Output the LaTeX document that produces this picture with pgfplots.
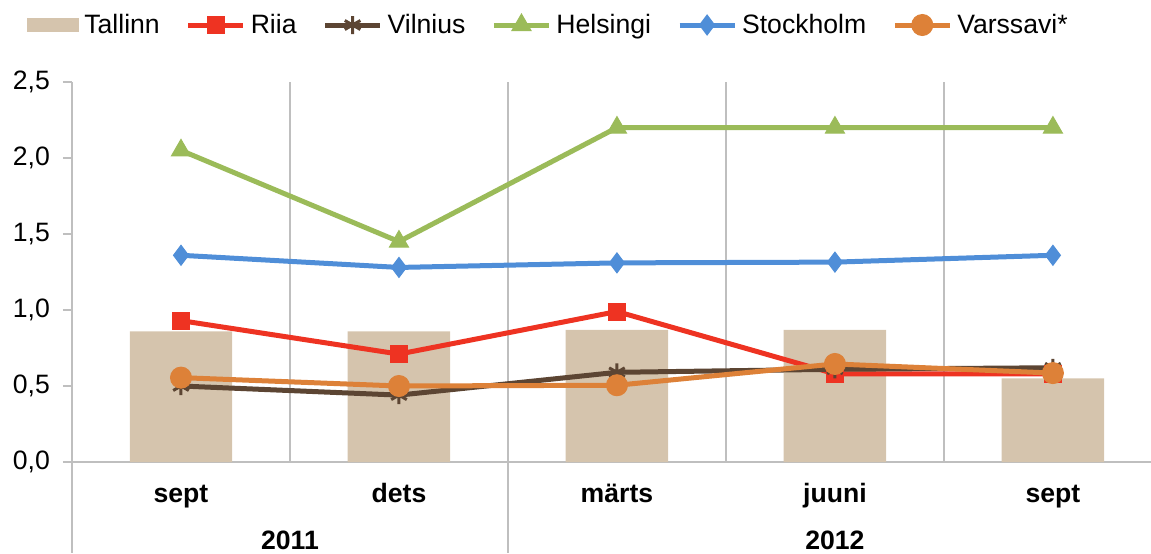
\documentclass[border=0pt]{standalone}
\usepackage{pgfplots}
\pgfplotsset{compat=1.18}
\usepackage{fontspec}
\setmainfont{Liberation Sans}
\definecolor{tallinn}{HTML}{D5C4AD}
\definecolor{riia}{HTML}{EE3322}
\definecolor{vilnius}{HTML}{5C4533}
\definecolor{helsingi}{HTML}{9BBB59}
\definecolor{stockholm}{HTML}{4F8ED8}
\definecolor{varssavi}{HTML}{DD8138}
\definecolor{gridc}{HTML}{BFBFBF}
\begin{document}
\begin{tikzpicture}[font=\fontsize{13.3}{15}\selectfont]
\begin{axis}[
  scale only axis,
  width=539.5pt, height=190pt,
  xmin=-0.5, xmax=4.45,
  ymin=0, ymax=2.5,
  clip=false,
  axis x line*=bottom, axis y line*=left,
  axis line style={gridc, line width=1pt, -},
  xtick={0,...,4},
  xticklabels={sept,dets,märts,juuni,sept},
  xticklabel style={font=\fontsize{13.3}{15}\selectfont\bfseries, anchor=base, yshift=-15.5pt},
  x tick style={draw=none},
  minor xtick={0.5,1.5,2.5,3.5},
  xminorgrids=true,
  minor x grid style={gridc, line width=1pt},
  minor x tick style={draw=none},
  ytick={0,0.5,...,2.5},
  y tick style={gridc, line width=1pt},
  tick align=outside,
  major tick length=4.5pt,
  yticklabel style={xshift=-3pt},
  /pgf/number format/.cd, use comma, fixed, fixed zerofill, precision=1, assume math mode=true,
  /pgfplots/.cd,
  legend columns=6,
  legend style={at={(-0.0473,1.15)}, anchor=west, draw=none, fill=none,
    font=\fontsize{13.3}{15}\selectfont,
    nodes={inner sep=1pt},
    /tikz/every odd column/.append style={column sep=1.5pt},
    /tikz/every even column/.append style={column sep=12pt},
    legend image code/.code={\draw[mark repeat=2,mark phase=2] plot coordinates {(0pt,0pt) (13.75pt,0pt) (27.5pt,0pt)};}},
]
\addplot[ybar, bar width=0.47, fill=tallinn, draw=none,
  legend image code/.code={\fill[tallinn] (0pt,-3.5pt) rectangle (26pt,3.5pt);}]
  coordinates {(0,0.86) (1,0.86) (2,0.87) (3,0.87) (4,0.55)};
\addlegendentry{Tallinn}
\addplot[riia, line width=2.5pt, mark=square*, mark size=4.25pt, mark options={line width=0.5pt}]
  coordinates {(0,0.93) (1,0.71) (2,0.99) (3,0.58) (4,0.58)};
\addlegendentry{Riia}
\addplot[vilnius, line width=2.5pt, mark=asterisk, mark size=4.5pt, mark options={line width=1.5pt}]
  coordinates {(0,0.50) (1,0.44) (2,0.59) (3,0.61) (4,0.62)};
\addlegendentry{Vilnius}
\addplot[helsingi, line width=2.5pt, mark=triangle*, mark size=5.5pt, mark options={line width=0.5pt}]
  coordinates {(0,2.05) (1,1.45) (2,2.20) (3,2.20) (4,2.20)};
\addlegendentry{Helsingi}
\addplot[stockholm, line width=2.5pt, mark=diamond*, mark size=5pt, mark options={line width=0.5pt}]
  coordinates {(0,1.36) (1,1.28) (2,1.31) (3,1.315) (4,1.36)};
\addlegendentry{Stockholm}
\addplot[varssavi, line width=2.5pt, mark=*, mark size=5.25pt, mark options={line width=0.5pt}]
  coordinates {(0,0.555) (1,0.50) (2,0.505) (3,0.645) (4,0.585)};
\addlegendentry{Varssavi*}
\draw[gridc, line width=1pt] (axis cs:-0.5,0) -- ([yshift=-45.5pt]axis cs:-0.5,0);
\draw[gridc, line width=1pt] (axis cs:1.5,0) -- ([yshift=-45.5pt]axis cs:1.5,0);
\node[font=\fontsize{13.3}{15}\selectfont\bfseries, anchor=base] at ([yshift=-43.5pt]axis cs:0.5,0) {2011};
\node[font=\fontsize{13.3}{15}\selectfont\bfseries, anchor=base] at ([yshift=-43.5pt]axis cs:3,0) {2012};
\coordinate (bl) at (rel axis cs:0,0);
\coordinate (tr) at (rel axis cs:1,1);
\end{axis}
\pgfresetboundingbox
\path[use as bounding box] ([xshift=-36pt,yshift=-45.5pt]bl) rectangle ([yshift=41pt]tr);
\end{tikzpicture}
\end{document}
